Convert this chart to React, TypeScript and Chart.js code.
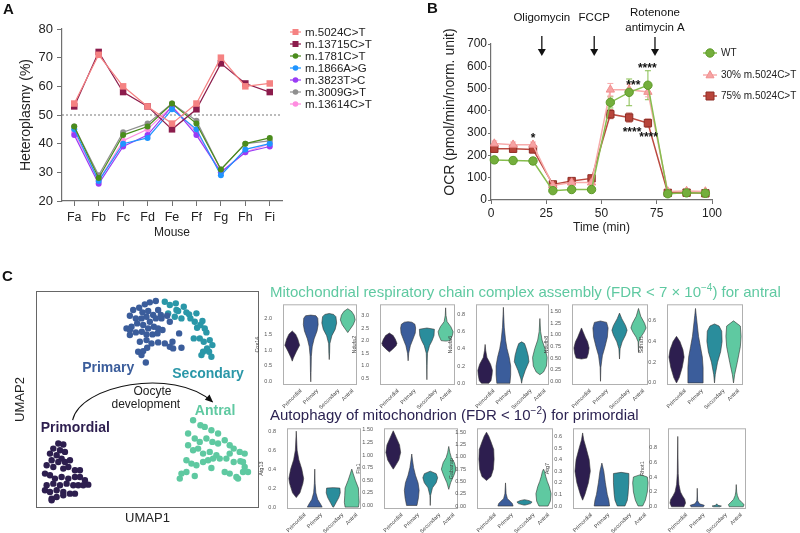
import React, { useEffect, useRef } from "react";
import { Chart, registerables } from "chart.js";
Chart.register(...registerables);

const FONT = "'Liberation Sans', Arial, Helvetica, sans-serif";
Chart.defaults.font.family = FONT;
const AX = "#707070";

/* ---------------- Panel A data ---------------- */
const mice = ["Fa", "Fb", "Fc", "Fd", "Fe", "Ff", "Fg", "Fh", "Fi"];
const het5024 = [54, 71, 60, 53, 47, 54, 70, 60, 61];
const het13715 = [53, 72, 58, 53, 45, 52, 68, 61, 58];
const het1781 = [46, 28, 43, 46, 54, 47, 31, 40, 42];
const het1866 = [45, 27, 40, 42, 52, 45, 29, 38, 40];
const het3823 = [43, 26, 39, 43, 53, 43, 30, 37, 39];
const het3009 = [46, 29, 44, 47, 54, 48, 31, 40, 41];
const het13614 = [44, 27, 41, 45, 53, 44, 30, 37, 40];
const hetThreshold = 50;
const hetTicks = [20, 30, 40, 50, 60, 70, 80];
const variantLabels = ["m.5024C>T", "m.13715C>T", "m.1781C>T", "m.1866A>G", "m.3823T>C", "m.3009G>T", "m.13614C>T"];
const variantColors = ["#f58282", "#8c1c4c", "#4a8c1c", "#1f94ff", "#9a3cf5", "#8f8f8f", "#ff8ce0"];
const variantMarkers = ["rect", "rect", "circle", "circle", "circle", "circle", "circle"];
const heteroplasmy = [het5024, het13715, het1781, het1866, het3823, het3009, het13614];

/* ---------------- Panel B data ---------------- */
const timeMin = [1.5, 10, 19, 28, 36.5, 45.5, 54, 62.5, 71, 80, 88.5, 97];
const ocrWT = [180, 177, 175, 42, 47, 47, 438, 483, 515, 28, 32, 30];
const errWT = [15, 15, 15, 8, 8, 8, 25, 60, 65, 6, 6, 6];
const ocr30 = [253, 248, 248, 65, 78, 78, 495, 495, 485, 38, 40, 38];
const err30 = [12, 12, 12, 8, 8, 8, 28, 25, 22, 6, 6, 6];
const ocr75 = [230, 230, 227, 70, 85, 97, 385, 370, 345, 32, 33, 30];
const err75 = [15, 15, 15, 8, 8, 10, 20, 20, 18, 6, 6, 6];
const injectionTimes = [23, 46.7, 74.2];
const injectionLabels = [["Oligomycin"], ["FCCP"], ["Rotenone", "antimycin A"]];
const starTimes = [19, 64.4, 70.7, 63.8, 71.3];
const starOCR = [292, 531, 606, 317, 295];
const starText = ["*", "***", "****", "****", "****"];

const ocrSeries = [
  { label: "WT", values: ocrWT, errors: errWT, line: "#86bd4e", fill: "#74ae3c", edge: "#5c9a28", marker: "circle", radius: 4.2 },
  { label: "30% m.5024C>T", values: ocr30, errors: err30, line: "#f7abab", fill: "#f6a3a3", edge: "#f08e8e", marker: "triangle", radius: 5 },
  { label: "75% m.5024C>T", values: ocr75, errors: err75, line: "#bb4a40", fill: "#b8443a", edge: "#8e2e26", marker: "rect", radius: 5 },
];

/* ---------------- Panel C UMAP data ---------------- */
const umapPrimordial = [[85,475],[100,478],[70,490],[90,495],[105,500],[60,505],[80,510],[95,520],[65,525],[85,530],[105,530],[120,525],[50,540],[70,545],[100,550],[115,545],[135,555],[150,555],[45,565],[60,570],[75,580],[95,575],[115,580],[135,575],[150,575],[165,585],[175,598],[50,600],[70,595],[90,600],[110,595],[130,600],[145,600],[160,600],[45,615],[60,620],[80,615],[100,620],[120,625],[135,625],[65,640],[80,635],[100,630],[65,645]];
const umapPrimary = [[310,75],[328,68],[345,58],[360,52],[378,48],[338,82],[355,78],[370,90],[385,75],[393,90],[300,92],[318,100],[335,100],[350,95],[360,110],[378,100],[395,100],[290,130],[305,125],[322,115],[340,120],[355,130],[372,125],[385,130],[300,150],[318,142],[336,140],[350,148],[368,148],[383,145],[398,135],[412,92],[420,110],[330,170],[350,165],[365,175],[385,172],[405,175],[428,170],[420,185],[448,145],[455,188],[325,200],[340,198],[352,188],[335,210],[348,232],[430,190],[300,135]];
const umapSecondary = [[405,50],[420,60],[438,55],[445,78],[462,65],[470,82],[415,85],[435,95],[455,100],[478,88],[440,75],[500,85],[518,108],[495,110],[512,120],[525,130],[502,128],[530,142],[492,160],[510,160],[522,170],[540,165],[548,180],[532,190],[520,200],[538,200],[545,215],[515,210],[482,100]];
const umapAntral = [[490,405],[512,420],[525,425],[545,435],[565,445],[475,445],[495,460],[510,470],[530,460],[548,470],[565,475],[585,465],[475,480],[490,495],[505,490],[520,505],[540,500],[560,510],[600,480],[612,490],[630,500],[645,505],[590,520],[612,530],[632,528],[645,545],[470,525],[485,535],[500,540],[520,530],[535,525],[550,520],[545,548],[570,520],[585,560],[600,565],[620,575],[640,560],[655,560],[625,580],[455,565],[470,560],[450,580],[495,572],[600,505],[640,530]];

const stages = ["Primordial", "Primary", "Secondary", "Antral"];
const stageColors = ["#2d1e4f", "#3b5d9b", "#2a8d9c", "#5fc9a1"];

/* violin profiles: [value, relative half-width] */
const cox14 = [
  [[0.65,0],[0.75,0.15],[0.95,0.55],[1.15,1],[1.35,0.75],[1.5,0.45],[1.6,0]],
  [[0,0],[0.3,0.04],[0.8,0.08],[1.1,0.2],[1.35,0.45],[1.6,0.85],[1.8,1],[2.0,0.95],[2.08,0.7],[2.1,0]],
  [[0.7,0],[0.9,0.05],[1.2,0.08],[1.45,0.35],[1.65,0.8],[1.85,1],[2.05,0.9],[2.12,0.6],[2.15,0]],
  [[1.55,0],[1.65,0.3],[1.8,0.75],[1.95,1],[2.1,0.85],[2.22,0.5],[2.3,0]],
];
const ndufa2 = [
  [[1.55,0],[1.65,0.4],[1.8,0.9],[1.9,1],[2.05,0.8],[2.2,0.5],[2.3,0]],
  [[1.2,0],[1.5,0.08],[1.8,0.3],[2.1,0.7],[2.3,0.95],[2.5,1],[2.65,0.9],[2.73,0.5],[2.75,0]],
  [[0.45,0],[1.0,0.03],[1.5,0.08],[1.8,0.35],[2.0,0.7],[2.2,0.95],[2.45,1],[2.5,0]],
  [[1.98,0],[2.0,0.6],[2.2,0.9],[2.35,1],[2.55,0.7],[2.75,0.2],[3.0,0.05],[3.3,0]],
];
const ndufa6 = [
  [[0,0.5],[0.03,0.8],[0.1,0.95],[0.15,1],[0.22,0.75],[0.3,0.25],[0.38,0.08],[0.45,0]],
  [[0,0.9],[0.1,1],[0.2,1],[0.3,0.8],[0.4,0.5],[0.5,0.3],[0.65,0.12],[0.8,0.04],[0.88,0]],
  [[0,0],[0.05,0.1],[0.15,0.5],[0.25,1],[0.32,0.9],[0.4,0.65],[0.46,0.4],[0.48,0]],
  [[0.1,0],[0.13,0.5],[0.2,0.9],[0.3,1],[0.4,0.7],[0.5,0.3],[0.6,0.1],[0.75,0]],
];
const ndufb8 = [
  [[0.48,0],[0.5,0.7],[0.6,0.9],[0.72,1],[0.85,0.8],[0.95,0.5],[1.05,0.25],[1.15,0]],
  [[0,0],[0.3,0.05],[0.55,0.25],[0.75,0.6],[0.95,0.9],[1.15,1],[1.27,0.8],[1.3,0]],
  [[0.48,0],[0.7,0.08],[0.85,0.35],[1.0,0.8],[1.1,1],[1.2,0.8],[1.35,0.3],[1.47,0]],
  [[0.62,0],[0.85,0.05],[0.95,0.3],[1.05,0.7],[1.15,1],[1.25,0.8],[1.4,0.3],[1.57,0]],
];
const sdhaf1 = [
  [[0,0],[0.05,0.35],[0.15,0.75],[0.25,1],[0.32,0.85],[0.4,0.45],[0.45,0]],
  [[0,1],[0.15,1],[0.25,0.9],[0.35,0.65],[0.45,0.4],[0.55,0.25],[0.65,0.1],[0.72,0]],
  [[0,0],[0.08,0.1],[0.2,0.4],[0.3,0.8],[0.4,1],[0.5,0.95],[0.55,0.6],[0.57,0]],
  [[0,0],[0.08,0.15],[0.2,0.5],[0.35,0.9],[0.45,1],[0.55,0.9],[0.6,0]],
];
const atg13 = [
  [[0.1,0],[0.15,0.5],[0.25,0.9],[0.3,1],[0.4,0.75],[0.5,0.35],[0.6,0.12],[0.8,0]],
  [[0,1],[0.03,0.8],[0.08,0.4],[0.15,0.15],[0.25,0.05],[0.4,0]],
  [[0,0.05],[0.05,0.4],[0.1,0.75],[0.15,0.95],[0.2,0.9],[0.205,0]],
  [[0,0.9],[0.05,1],[0.12,0.95],[0.2,0.9],[0.28,0.5],[0.35,0.2],[0.4,0]],
];
const fis1 = [
  [[0.72,0],[0.8,0.35],[0.9,0.75],[1.05,1],[1.2,0.85],[1.35,0.4],[1.48,0]],
  [[0,0.7],[0.15,0.9],[0.3,1],[0.45,0.85],[0.6,0.5],[0.75,0.25],[0.9,0.1],[1.02,0]],
  [[0,0],[0.2,0.05],[0.35,0.3],[0.45,0.8],[0.55,1],[0.63,0.8],[0.68,0]],
  [[0.32,0],[0.45,0.25],[0.6,0.7],[0.72,1],[0.85,0.75],[0.95,0.35],[1.05,0.15],[1.17,0]],
];
const gabarap = [
  [[0.52,0],[0.6,0.6],[0.75,0.9],[0.95,1],[1.15,0.95],[1.3,0.6],[1.42,0.3],[1.5,0]],
  [[0,1],[0.05,0.9],[0.1,0.6],[0.15,0.25],[0.25,0.08],[0.47,0]],
  [[0.02,0.1],[0.05,0.8],[0.08,1],[0.11,0.6],[0.13,0]],
  [[0,0.6],[0.1,0.9],[0.25,1],[0.4,0.75],[0.5,0.5],[0.6,0.3],[0.7,0.15],[0.75,0]],
];
const atg7 = [
  [[0.05,0],[0.1,0.3],[0.2,0.75],[0.3,1],[0.4,0.85],[0.5,0.45],[0.57,0.15],[0.63,0]],
  [[0,1],[0.05,0.9],[0.1,0.7],[0.2,0.45],[0.3,0.25],[0.37,0]],
  [[0,0.5],[0.05,0.8],[0.1,0.9],[0.2,1],[0.28,1],[0.29,0]],
  [[0,0.3],[0.05,0.65],[0.12,0.9],[0.2,1],[0.25,0.9],[0.27,0]],
];
const rhot1 = [
  [[0,0.8],[0.05,1],[0.1,0.9],[0.15,0.6],[0.2,0.35],[0.3,0.15],[0.45,0.06],[0.7,0.03],[0.95,0]],
  [[0,0.8],[0.02,0.9],[0.04,0.3],[0.08,0.05],[0.25,0]],
  [[0,0.4],[0.01,0.6],[0.02,0.15],[0.04,0]],
  [[0,0.9],[0.03,1],[0.06,0.7],[0.1,0.35],[0.15,0.15],[0.2,0.06],[0.3,0]],
];

const genes = ["Cox14", "Ndufa2", "Ndufa6", "Ndufb8", "Sdhaf1", "Atg13", "Fis1", "Gabarap", "Atg7", "Rhot1"];
const geneViolins = [cox14, ndufa2, ndufa6, ndufb8, sdhaf1, atg13, fis1, gabarap, atg7, rhot1];
const geneYMin = [-0.1, 0.24, -0.02, -0.08, -0.02, -0.02, -0.07, -0.06, -0.026, -0.03];
const geneYMax = [2.44, 3.44, 0.915, 1.66, 0.76, 0.83, 1.53, 1.58, 0.67, 1.06];
const geneTicks = [
  [0, 0.5, 1, 1.5, 2],
  [0.5, 1, 1.5, 2, 2.5, 3],
  [0, 0.2, 0.4, 0.6, 0.8],
  [0, 0.25, 0.5, 0.75, 1, 1.25, 1.5],
  [0, 0.2, 0.4, 0.6],
  [0, 0.2, 0.4, 0.6, 0.8],
  [0, 0.25, 0.5, 0.75, 1, 1.25, 1.5],
  [0, 0.25, 0.5, 0.75, 1, 1.25, 1.5],
  [0, 0.1, 0.2, 0.3, 0.4, 0.5, 0.6],
  [0, 0.2, 0.4, 0.6, 0.8],
];
const geneDecimals = [1, 1, 1, 2, 1, 1, 2, 2, 1, 1];

/* layout of the violin boxes (pixels) */
const violinBoxes = [
  [283, 357, 304, 385], [380, 455, 304, 385], [476, 549, 304, 385], [572, 648, 304, 385], [667, 743, 304, 385],
  [287, 361, 428, 509], [384, 458, 428, 509], [477, 553, 428, 509], [573, 650, 428, 509], [668, 746, 428, 509],
];

/* ---------------- helpers ---------------- */
function drawText(ctx: any, text: string, x: number, y: number, font: string, color: string, align = "center", rotate = 0, baseline = "middle") {
  ctx.save();
  ctx.translate(x, y);
  if (rotate) ctx.rotate(rotate);
  ctx.font = font;
  ctx.fillStyle = color;
  ctx.textAlign = align;
  ctx.textBaseline = baseline;
  ctx.fillText(text, 0, 0);
  ctx.restore();
}
function drawMarker(ctx: any, style: string, x: number, y: number, r: number, fill: string, stroke?: string) {
  ctx.save();
  ctx.fillStyle = fill;
  ctx.beginPath();
  if (style === "rect") ctx.rect(x - r, y - r, 2 * r, 2 * r);
  else if (style === "triangle") {
    ctx.moveTo(x, y - r * 1.1);
    ctx.lineTo(x + r, y + r * 0.7);
    ctx.lineTo(x - r, y + r * 0.7);
    ctx.closePath();
  } else ctx.arc(x, y, r, 0, Math.PI * 2);
  ctx.fill();
  if (stroke) {
    ctx.strokeStyle = stroke;
    ctx.lineWidth = 1;
    ctx.stroke();
  }
  ctx.restore();
}

/* ---------------- Panel A ---------------- */
const plugA = {
  id: "plugA",
  beforeDatasetsDraw(chart: any) {
    const { ctx, chartArea: a, scales } = chart;
    const py = scales.y.getPixelForValue(hetThreshold);
    ctx.save();
    ctx.setLineDash([2, 2]);
    ctx.strokeStyle = "#555";
    ctx.lineWidth = 0.8;
    ctx.beginPath();
    ctx.moveTo(a.left, py);
    ctx.lineTo(a.right, py);
    ctx.stroke();
    ctx.restore();
  },
  afterDraw(chart: any) {
    const { ctx, chartArea: a } = chart;
    drawText(ctx, "Heteroplasmy (%)", 26, (a.top + a.bottom) / 2, `14px ${FONT}`, "#222", "center", -Math.PI / 2);
    drawText(ctx, "Mouse", (a.left + a.right) / 2, a.bottom + 32, `12px ${FONT}`, "#222");
    variantLabels.forEach((lab, i) => {
      const ly = 32 + i * 12;
      const lx = a.right + 8;
      ctx.save();
      ctx.strokeStyle = variantColors[i];
      ctx.lineWidth = 1.2;
      ctx.beginPath();
      ctx.moveTo(lx, ly);
      ctx.lineTo(lx + 11, ly);
      ctx.stroke();
      ctx.restore();
      drawMarker(ctx, variantMarkers[i], lx + 5.5, ly, variantMarkers[i] === "rect" ? 3 : 2.8, variantColors[i]);
      drawText(ctx, lab, lx + 15, ly + 0.5, `11.5px ${FONT}`, "#222", "left");
    });
  },
};

const configA = () => ({
  type: "line",
  data: {
    labels: mice,
    datasets: heteroplasmy.map((d, i) => ({
      label: variantLabels[i],
      data: d,
      borderColor: variantColors[i],
      backgroundColor: variantColors[i],
      pointStyle: variantMarkers[i],
      pointRadius: variantMarkers[i] === "rect" ? 4.6 : 3,
      pointBorderWidth: 0,
      borderWidth: 1.2,
      clip: false,
    })),
  },
  options: {
    responsive: false,
    animation: false,
    layout: { padding: { left: 0, top: 29, right: 118, bottom: 0 } },
    plugins: { legend: { display: false }, tooltip: { enabled: false } },
    scales: {
      x: {
        type: "category",
        offset: true,
        grid: { offset: false, drawOnChartArea: false, drawTicks: true, tickLength: 5, color: AX },
        border: { display: true, color: AX, width: 1.2 },
        ticks: { color: "#222", font: { size: 12.5 }, padding: 4, autoSkip: false, maxRotation: 0 },
        afterFit: (s: any) => { s.height = 59; },
      },
      y: {
        min: 20,
        max: 80,
        afterBuildTicks: (s: any) => { s.ticks = hetTicks.map((v) => ({ value: v })); },
        grid: { drawOnChartArea: false, drawTicks: true, tickLength: 5, color: AX },
        border: { display: true, color: AX, width: 1.2 },
        ticks: { color: "#222", font: { size: 13 }, padding: 4 },
        afterFit: (s: any) => { s.width = 62; },
      },
    },
  },
  plugins: [plugA],
});

/* ---------------- Panel B ---------------- */
const plugB = {
  id: "plugB",
  beforeDatasetsDraw(chart: any) {
    const { ctx, scales } = chart;
    const { x, y } = scales;
    ocrSeries.forEach((s) => {
      ctx.save();
      ctx.strokeStyle = s.line;
      ctx.lineWidth = 1;
      timeMin.forEach((t, i) => {
        const px = x.getPixelForValue(t);
        const y1 = y.getPixelForValue(s.values[i] - s.errors[i]);
        const y2 = y.getPixelForValue(s.values[i] + s.errors[i]);
        ctx.beginPath();
        ctx.moveTo(px, y1);
        ctx.lineTo(px, y2);
        ctx.moveTo(px - 3, y1);
        ctx.lineTo(px + 3, y1);
        ctx.moveTo(px - 3, y2);
        ctx.lineTo(px + 3, y2);
        ctx.stroke();
      });
      ctx.restore();
    });
  },
  afterDraw(chart: any) {
    const { ctx, chartArea: a, scales } = chart;
    const { x, y } = scales;
    drawText(ctx, "OCR (pmol/min/norm. unit)", 50, 112, `14px ${FONT}`, "#222", "center", -Math.PI / 2);
    drawText(ctx, "Time (min)", (a.left + a.right) / 2, a.bottom + 28, `12px ${FONT}`, "#222");
    injectionTimes.forEach((t, i) => {
      const px = x.getPixelForValue(t);
      const lines = injectionLabels[i];
      if (lines.length === 1) drawText(ctx, lines[0], px, a.top - 26, `11.5px ${FONT}`, "#111");
      else {
        drawText(ctx, lines[0], px, a.top - 31, `11.5px ${FONT}`, "#111");
        drawText(ctx, lines[1], px, a.top - 16, `11.5px ${FONT}`, "#111");
      }
      const y0 = lines.length === 1 ? a.top - 8 : a.top - 7;
      const y1 = a.top + 12;
      ctx.save();
      ctx.strokeStyle = "#111";
      ctx.fillStyle = "#111";
      ctx.lineWidth = 1.3;
      ctx.beginPath();
      ctx.moveTo(px, y0);
      ctx.lineTo(px, y1 - 5);
      ctx.stroke();
      ctx.beginPath();
      ctx.moveTo(px - 4, y1 - 7);
      ctx.lineTo(px + 4, y1 - 7);
      ctx.lineTo(px, y1);
      ctx.closePath();
      ctx.fill();
      ctx.restore();
    });
    starTimes.forEach((t, i) => {
      drawText(ctx, starText[i], x.getPixelForValue(t), y.getPixelForValue(starOCR[i]) + 7, `bold 12px ${FONT}`, "#111", "center", 0, "alphabetic");
    });
    const ys = [53, 75, 96];
    ocrSeries.forEach((s, i) => {
      const lx = a.right - 2;
      const ly = ys[i];
      ctx.save();
      ctx.strokeStyle = s.line;
      ctx.lineWidth = 1.5;
      ctx.beginPath();
      ctx.moveTo(lx - 7, ly);
      ctx.lineTo(lx + 7, ly);
      ctx.stroke();
      ctx.restore();
      drawMarker(ctx, s.marker, lx, ly, s.marker === "circle" ? 4.2 : 4, s.fill, s.edge);
      drawText(ctx, s.label, lx + 11, ly + 0.5, `10px ${FONT}`, "#222", "left");
    });
  },
};

const configB = () => ({
  type: "scatter",
  data: {
    datasets: ocrSeries.map((s) => ({
      label: s.label,
      data: timeMin.map((t, i) => ({ x: t, y: s.values[i] })),
      showLine: true,
      borderColor: s.line,
      backgroundColor: s.fill,
      pointBorderColor: s.edge,
      pointBorderWidth: 1,
      pointStyle: s.marker,
      pointRadius: s.marker === "rect" ? 5.2 : s.marker === "triangle" ? 4.8 : 4.2,
      borderWidth: 1.5,
      clip: false,
    })),
  },
  options: {
    responsive: false,
    animation: false,
    layout: { padding: { left: 0, top: 44, right: 88, bottom: 0 } },
    plugins: { legend: { display: false }, tooltip: { enabled: false } },
    scales: {
      x: {
        type: "linear",
        min: 0,
        max: 100,
        ticks: { stepSize: 25, color: "#222", font: { size: 12 }, padding: 2 },
        grid: { drawOnChartArea: false, drawTicks: true, tickLength: 4, color: AX },
        border: { display: true, color: AX, width: 1.2 },
        afterFit: (s: any) => { s.height = 60; },
      },
      y: {
        type: "linear",
        min: 0,
        max: 700,
        ticks: { stepSize: 100, color: "#222", font: { size: 12 }, padding: 1 },
        grid: { drawOnChartArea: false, drawTicks: true, tickLength: 3, color: AX },
        border: { display: true, color: AX, width: 1.2 },
        afterFit: (s: any) => { s.width = 91; },
      },
    },
  },
  plugins: [plugB],
});

/* ---------------- Panel C: UMAP ---------------- */
const umapGroups = [
  { name: "Primordial", points: umapPrimordial, color: stageColors[0], label: [136, 428] },
  { name: "Primary", points: umapPrimary, color: stageColors[1], label: [235, 250] },
  { name: "Secondary", points: umapSecondary, color: "#2a97a8", label: [535, 268] },
  { name: "Antral", points: umapAntral, color: stageColors[3], label: [556, 378] },
];

const plugUmap = {
  id: "plugUmap",
  afterDraw(chart: any) {
    const { ctx, chartArea: a, scales } = chart;
    const { x, y } = scales;
    const P = (u: number, v: number) => [x.getPixelForValue(u), y.getPixelForValue(v)];
    ctx.save();
    ctx.strokeStyle = "#666";
    ctx.lineWidth = 1;
    ctx.strokeRect(a.left + 0.5, a.top + 0.5, a.right - a.left - 1, a.bottom - a.top - 1);
    ctx.restore();
    umapGroups.forEach((g) => {
      const [px, py] = P(g.label[0], g.label[1]);
      drawText(ctx, g.name, px, py, `bold 14px ${FONT}`, g.color);
    });
    const [ox, oy] = P(368, 320);
    drawText(ctx, "Oocyte", ox, oy, `12px ${FONT}`, "#222");
    const [dx, dy] = P(348, 358);
    drawText(ctx, "development", dx, dy, `12px ${FONT}`, "#222");
    const s = P(128, 405), c1 = P(150, 300), c2 = P(430, 245), e = P(548, 350);
    ctx.save();
    ctx.strokeStyle = "#111";
    ctx.fillStyle = "#111";
    ctx.lineWidth = 1.1;
    ctx.beginPath();
    ctx.moveTo(s[0], s[1]);
    ctx.bezierCurveTo(c1[0], c1[1], c2[0], c2[1], e[0], e[1]);
    ctx.stroke();
    const ang = Math.atan2(e[1] - c2[1], e[0] - c2[0]);
    ctx.translate(e[0], e[1]);
    ctx.rotate(ang);
    ctx.beginPath();
    ctx.moveTo(1, 0);
    ctx.lineTo(-7, -3.5);
    ctx.lineTo(-7, 3.5);
    ctx.closePath();
    ctx.fill();
    ctx.restore();
    drawText(ctx, "UMAP1", (a.left + a.right) / 2, a.bottom + 10, `13px ${FONT}`, "#222");
    drawText(ctx, "UMAP2", 20, (a.top + a.bottom) / 2, `13px ${FONT}`, "#222", "center", -Math.PI / 2);
  },
};

const configUmap = () => ({
  type: "scatter",
  data: {
    datasets: umapGroups.map((g) => ({
      label: g.name,
      data: g.points.map(([u, v]) => ({ x: u, y: v })),
      backgroundColor: g.color,
      borderWidth: 0,
      pointRadius: 3.2,
    })),
  },
  options: {
    responsive: false,
    animation: false,
    layout: { padding: { left: 36, top: 21, right: 11, bottom: 25 } },
    plugins: { legend: { display: false }, tooltip: { enabled: false } },
    scales: {
      x: { type: "linear", display: false, min: 18, max: 688 },
      y: { type: "linear", display: false, min: 18, max: 668, reverse: true },
    },
  },
  plugins: [plugUmap],
});

/* ---------------- Violins ---------------- */
const VIOLIN_HALF = 0.4;
const LABEL_FONT = 5.5;
const violinPlugin = (violins: number[][][]) => ({
  id: "violin",
  beforeDatasetsDraw(chart: any) {
    const { ctx, chartArea: a, scales } = chart;
    const { x, y } = scales;
    ctx.save();
    ctx.beginPath();
    ctx.rect(a.left, a.top, a.right - a.left, a.bottom - a.top);
    ctx.clip();
    violins.forEach((prof, i) => {
      ctx.beginPath();
      prof.forEach(([v, w], k) => {
        const px = x.getPixelForValue(i + w * VIOLIN_HALF);
        const py = y.getPixelForValue(v);
        if (k) ctx.lineTo(px, py);
        else ctx.moveTo(px, py);
      });
      for (let k = prof.length - 1; k >= 0; k--) {
        const [v, w] = prof[k];
        ctx.lineTo(x.getPixelForValue(i - w * VIOLIN_HALF), y.getPixelForValue(v));
      }
      ctx.closePath();
      ctx.fillStyle = stageColors[i];
      ctx.fill();
      ctx.strokeStyle = "#333";
      ctx.lineWidth = 0.6;
      ctx.stroke();
    });
    ctx.restore();
    ctx.save();
    ctx.strokeStyle = "#b0b0b0";
    ctx.lineWidth = 1;
    ctx.strokeRect(a.left + 0.5, a.top + 0.5, a.right - a.left - 1, a.bottom - a.top - 1);
    ctx.restore();
  },
  afterDraw(chart: any) {
    const { ctx, chartArea: a, scales } = chart;
    const { x } = scales;
    ctx.save();
    ctx.font = `${LABEL_FONT}px ${FONT}`;
    stages.forEach((lab, i) => {
      const w = ctx.measureText(lab).width;
      const h = (w + LABEL_FONT) * Math.SQRT1_2;
      drawText(ctx, lab, x.getPixelForValue(i), a.bottom + 3 + h / 2, `${LABEL_FONT}px ${FONT}`, "#444", "center", -Math.PI / 4);
    });
    ctx.restore();
  },
});

const violinConfig = (g: number) => () => ({
  type: "scatter",
  data: { datasets: [] },
  options: {
    responsive: false,
    animation: false,
    layout: { padding: { left: 0, top: 6, right: 4, bottom: 0 } },
    plugins: { legend: { display: false }, tooltip: { enabled: false } },
    scales: {
      x: {
        type: "linear",
        min: -0.5,
        max: 3.5,
        afterBuildTicks: (s: any) => { s.ticks = stages.map((_, i) => ({ value: i })); },
        ticks: { display: false },
        grid: { display: false },
        border: { display: false },
        afterFit: (s: any) => { s.height = 28; },
      },
      y: {
        type: "linear",
        min: geneYMin[g],
        max: geneYMax[g],
        afterBuildTicks: (s: any) => { s.ticks = geneTicks[g].map((v) => ({ value: v })); },
        ticks: { callback: (v: any) => Number(v).toFixed(geneDecimals[g]), color: "#555", font: { size: 5.5 }, padding: 3 },
        grid: { display: false },
        border: { display: false },
        title: { display: true, text: genes[g], color: "#444", font: { size: 5.5 }, padding: 1 },
        afterFit: (s: any) => { s.width = 30; },
      },
    },
  },
  plugins: [violinPlugin(geneViolins[g])],
});

/* ---------------- components ---------------- */
function ChartBox({ x, y, w, h, make }: any) {
  const ref = useRef<HTMLCanvasElement>(null);
  useEffect(() => {
    const chart = new Chart(ref.current as any, make() as any);
    return () => chart.destroy();
  }, []);
  return <canvas ref={ref} width={w} height={h} style={{ position: "absolute", left: x, top: y, width: w, height: h }} />;
}

const letter = (t: string, left: number, top: number) => (
  <div style={{ position: "absolute", left, top, fontFamily: FONT, fontWeight: "bold", fontSize: 15, lineHeight: "16px", color: "#111" }}>{t}</div>
);

export default function App() {
  return (
    <div style={{ position: "absolute", left: 0, top: 0, width: 800, height: 533, background: "#fff", overflow: "hidden" }}>
      <ChartBox x={0} y={0} w={400} h={260} make={configA} />
      <ChartBox x={400} y={0} w={400} h={260} make={configB} />
      <ChartBox x={0} y={270} w={270} h={263} make={configUmap} />
      {violinBoxes.map(([l, r, t, b], i) => (
        <ChartBox key={i} x={l - 30} y={t - 6} w={r - l + 34} h={b - t + 34} make={violinConfig(i)} />
      ))}
      <div style={{ position: "absolute", left: 270, top: 283, fontFamily: FONT, fontSize: 15, lineHeight: "18px", color: "#5fc9a1", whiteSpace: "nowrap" }}>
        Mitochondrial respiratory chain complex assembly (FDR &lt; 7 × 10<sup style={{ fontSize: 10, lineHeight: 0 }}>−4</sup>) for antral
      </div>
      <div style={{ position: "absolute", left: 270, top: 406, fontFamily: FONT, fontSize: 15, lineHeight: "18px", color: "#2c2352", whiteSpace: "nowrap" }}>
        Autophagy of mitochondrion (FDR &lt; 10<sup style={{ fontSize: 10, lineHeight: 0 }}>−2</sup>) for primordial
      </div>
      {letter("A", 3, 1)}
      {letter("B", 427, 0)}
      {letter("C", 2, 268)}
    </div>
  );
}
